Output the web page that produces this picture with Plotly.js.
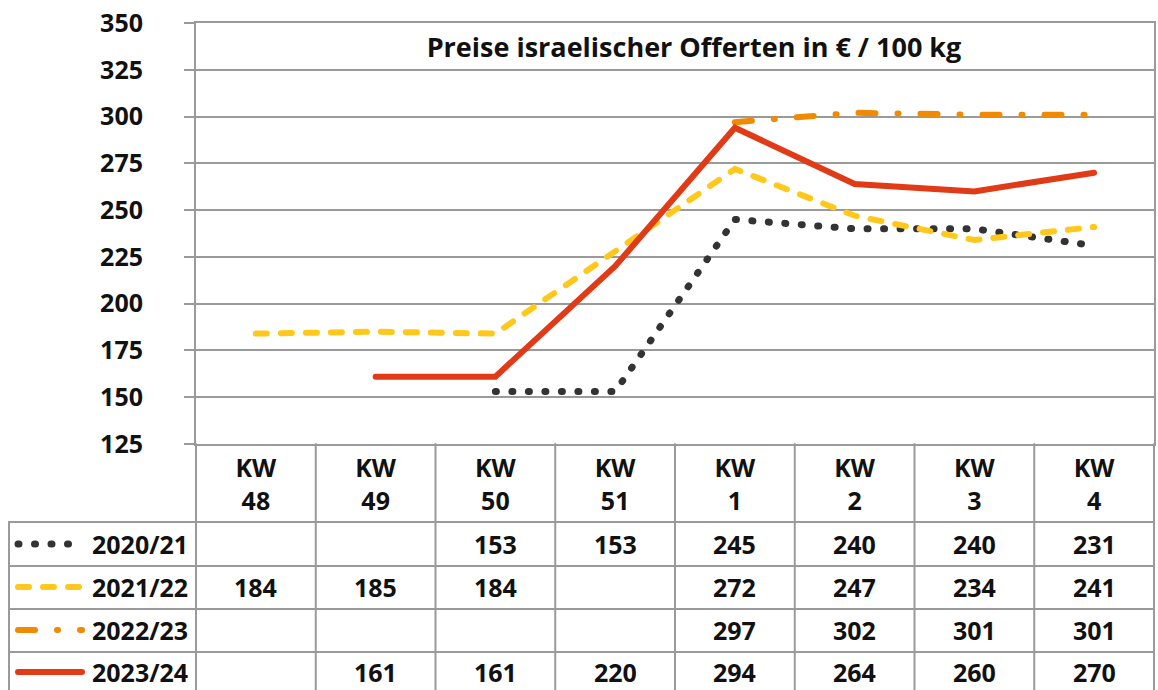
<!DOCTYPE html>
<html>
<head>
<meta charset="utf-8">
<script src="https://cdn.plot.ly/plotly-3.0.1.min.js"></script>
<style>
  body { margin: 0; background: #fff; }
  #plot { width: 1158px; height: 690px; }
  .js-line, .shapelayer path { stroke-linecap: round !important; }
</style>
</head>
<body>
<div id="plot"></div>
<script>
// Kalenderwochen und Preise (EUR / 100 kg)
const weeks = ['48', '49', '50', '51', '1', '2', '3', '4'];
const seasons = ['2020/21', '2021/22', '2022/23', '2023/24'];
const v2020 = [null, null, 153, 153, 245, 240, 240, 231];
const v2021 = [184, 185, 184, null, 272, 247, 234, 241];
const v2022 = [null, null, null, null, 297, 302, 301, 301];
const v2023 = [null, 161, 161, 220, 294, 264, 260, 270];
const yTicks = [125, 150, 175, 200, 225, 250, 275, 300, 325, 350];

const values = [v2020, v2021, v2022, v2023];
const styles = [
    { color: '#333333', width: 7, dash: '1px,15.5px' },
    { color: '#FFC81A', width: 6, dash: '11px,14px' },
    { color: '#F18A00', width: 6, dash: '17px,22px,1px,22px' },
    { color: '#E03A16', width: 6, dash: 'solid' },
];

const FONT = 'Open Sans, Noto Sans, sans-serif';
const GRID = '#9a9a9a';
const cats = weeks.map(w => 'KW ' + w);
const txtFont = { family: FONT, size: 25, color: '#111', weight: 700 };

// pixel row -> paper y (plot area 23..444)
const py = p => (444 - p) / 421;
const px = p => (p - 196) / 958;

const data = values.map((ys, i) => ({
    x: cats,
    y: ys,
    type: 'scatter',
    mode: 'lines',
    name: seasons[i],
    connectgaps: true,
    line: { color: styles[i].color, width: styles[i].width, dash: styles[i].dash },
    hoverinfo: 'skip',
}));

const rowTops = [522, 566, 609, 652];
const rowBottom = 695;
const rowMid = [544, 587, 630, 672];

const shapes = [];
// horizontal table lines
rowTops.forEach(t => shapes.push({
    type: 'line', xref: 'paper', yref: 'paper',
    x0: px(9), x1: 1, y0: py(t), y1: py(t),
    line: { color: GRID, width: 2 },
}));
// vertical table lines between weeks
for (let i = 0; i <= weeks.length; i++) {
    shapes.push({
        type: 'line', xref: 'paper', yref: 'paper',
        x0: i / weeks.length, x1: i / weeks.length, y0: 0, y1: py(rowBottom),
        line: { color: GRID, width: 2 },
    });
}
// left border of legend column
shapes.push({
    type: 'line', xref: 'paper', yref: 'paper',
    x0: px(9), x1: px(9), y0: py(522), y1: py(rowBottom),
    line: { color: GRID, width: 2 },
});
// legend line samples
styles.forEach((s, i) => shapes.push({
    type: 'line', xref: 'paper', yref: 'paper',
    x0: px(18), x1: px(82), y0: py(rowMid[i]), y1: py(rowMid[i]),
    line: { color: s.color, width: s.width, dash: s.dash },
}));

const annotations = [];
seasons.forEach((s, i) => {
    annotations.push({
        text: s, xref: 'paper', yref: 'paper',
        x: px(190), y: py(rowMid[i]), xanchor: 'right', yanchor: 'middle',
        showarrow: false, font: txtFont,
    });
    values[i].forEach((v, j) => {
        if (v === null) return;
        annotations.push({
            text: String(v), xref: 'x', yref: 'paper',
            x: cats[j], y: py(rowMid[i]), xanchor: 'center', yanchor: 'middle',
            showarrow: false, font: txtFont,
        });
    });
});

const layout = {
    width: 1158,
    height: 690,
    margin: { l: 196, r: 4, t: 23, b: 246 },
    paper_bgcolor: '#fff',
    plot_bgcolor: '#fff',
    showlegend: false,
    font: txtFont,
    title: {
        text: 'Preise israelischer Offerten in € / 100 kg',
        x: px(694), xref: 'paper', xanchor: 'center',
        y: 1 - 48 / 690, yref: 'container', yanchor: 'middle',
        font: { family: FONT, size: 27, color: '#111', weight: 700 },
    },
    xaxis: {
        type: 'category',
        range: [-0.5, 7.5],
        tickvals: cats,
        ticktext: weeks.map(w => 'KW<br>' + w),
        showgrid: false,
        showline: true,
        mirror: true,
        linecolor: GRID,
        linewidth: 2,
        ticks: '',
        ticklabelstandoff: 1,
        tickfont: txtFont,
        fixedrange: true,
    },
    yaxis: {
        range: [125, 350],
        tickvals: yTicks,
        showgrid: true,
        gridcolor: GRID,
        gridwidth: 2,
        showline: true,
        mirror: true,
        linecolor: GRID,
        linewidth: 2,
        ticks: 'outside',
        ticklen: 10,
        tickwidth: 2,
        tickcolor: GRID,
        ticklabelstandoff: 36,
        zeroline: false,
        tickfont: txtFont,
        fixedrange: true,
    },
    shapes,
    annotations,
};

Plotly.newPlot('plot', data, layout, { staticPlot: true, displayModeBar: false });
</script>
</body>
</html>
